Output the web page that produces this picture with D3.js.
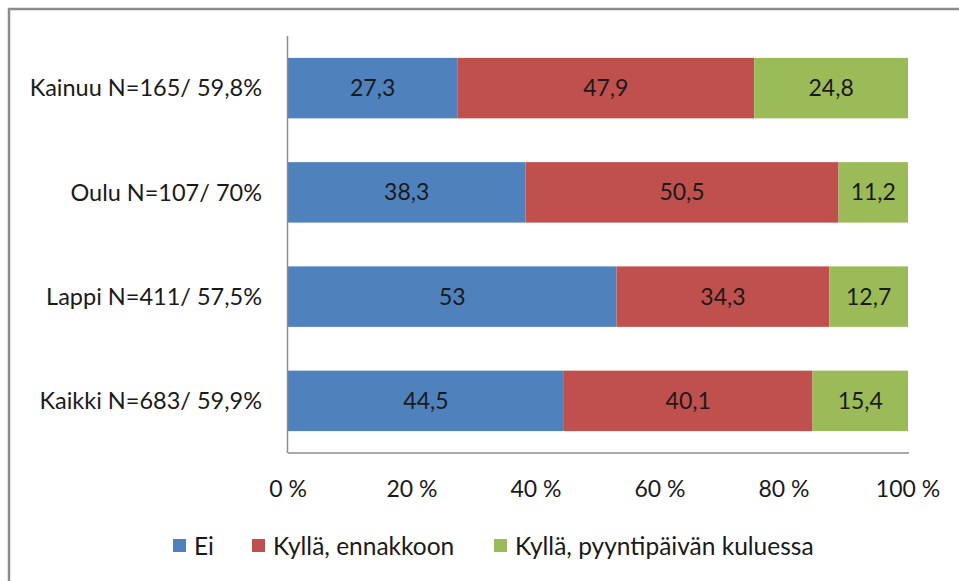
<!DOCTYPE html>
<html>
<head>
<meta charset="utf-8">
<script src="https://cdn.jsdelivr.net/npm/d3@7"></script>
<style>
body { margin:0; background:#fff; }
text { font-family: Lato, "Open Sans", sans-serif; fill:#1a1a1a; }
</style>
</head>
<body>
<svg id="chart"></svg>
<script>
var categories = ["Kainuu N=165/ 59,8%", "Oulu N=107/ 70%", "Lappi N=411/ 57,5%", "Kaikki N=683/ 59,9%"];
var seriesNames = ["Ei", "Kyllä, ennakkoon", "Kyllä, pyyntipäivän kuluessa"];
var ei = [27.3, 38.3, 53, 44.5];
var ennakkoon = [47.9, 50.5, 34.3, 40.1];
var kuluessa = [24.8, 11.2, 12.7, 15.4];
var colors = ["#4F81BD", "#C0504D", "#9BBB59"];
var xTicks = [0, 20, 40, 60, 80, 100];

var screen = {width:959, height:581};
var margins = {top:36, left:288, right:51, bottom:128};
var graph = {
    width: screen.width - margins.left - margins.right,
    height: screen.height - margins.top - margins.bottom
};

var svg = d3.select("#chart")
    .attr("width", screen.width)
    .attr("height", screen.height);

// outer frame (only top and left edge visible)
svg.append("path")
    .attr("d", "M9,581 L9,9 L959,9")
    .attr("fill", "none")
    .attr("stroke", "#8c8c8c")
    .attr("stroke-width", 2.5);

var xScale = d3.scaleLinear().domain([0, 100]).range([0, graph.width]);
var yScale = d3.scaleBand().domain(categories).range([0, graph.height]).paddingInner(0.42).paddingOuter(0.21);

var rows = categories.map(function(c, i) {
    return {cat: c, values: [ei[i], ennakkoon[i], kuluessa[i]]};
});

var g = svg.append("g")
    .attr("transform", "translate(" + margins.left + "," + margins.top + ")");

rows.forEach(function(row) {
    var start = 0;
    row.values.forEach(function(v, j) {
        var x0 = start;
        start += v;
        g.append("rect")
            .attr("x", xScale(x0))
            .attr("y", yScale(row.cat))
            .attr("width", xScale(start) - xScale(x0))
            .attr("height", yScale.bandwidth())
            .attr("fill", colors[j]);
        g.append("text")
            .attr("x", xScale(x0 + v / 2))
            .attr("y", yScale(row.cat) + yScale.bandwidth() / 2)
            .attr("dy", "0.35em")
            .attr("text-anchor", "middle")
            .style("font-size", "23px")
            .text(String(v).replace(".", ","));
    });
});

// axes lines
g.append("line")
    .attr("x1", -0.5).attr("x2", -0.5)
    .attr("y1", 0).attr("y2", graph.height)
    .attr("stroke", "#8c8c8c").attr("stroke-width", 1.5);
g.append("line")
    .attr("x1", 0).attr("x2", graph.width + 1)
    .attr("y1", graph.height).attr("y2", graph.height)
    .attr("stroke", "#8c8c8c").attr("stroke-width", 1.5);

// x tick labels
g.selectAll(".xtick")
    .data(xTicks)
    .enter()
    .append("text")
    .attr("x", function(d) { return xScale(d); })
    .attr("y", graph.height + 36)
    .attr("dy", "0.35em")
    .attr("text-anchor", "middle")
    .style("font-size", "23px")
    .text(function(d) { return d + " %"; });

// category labels
g.selectAll(".ylab")
    .data(categories)
    .enter()
    .append("text")
    .attr("x", -26)
    .attr("y", function(d) { return yScale(d) + yScale.bandwidth() / 2; })
    .attr("dy", "0.35em")
    .attr("text-anchor", "end")
    .style("font-size", "23.5px")
    .text(function(d) { return d; });

// legend
var legendX = [173, 252, 494];
var legend = svg.append("g");
seriesNames.forEach(function(name, i) {
    legend.append("rect")
        .attr("x", legendX[i])
        .attr("y", 539)
        .attr("width", 13)
        .attr("height", 13)
        .attr("fill", colors[i]);
    legend.append("text")
        .attr("x", legendX[i] + 21)
        .attr("y", 546)
        .attr("dy", "0.35em")
        .style("font-size", "24.5px")
        .text(name);
});
</script>
</body>
</html>
